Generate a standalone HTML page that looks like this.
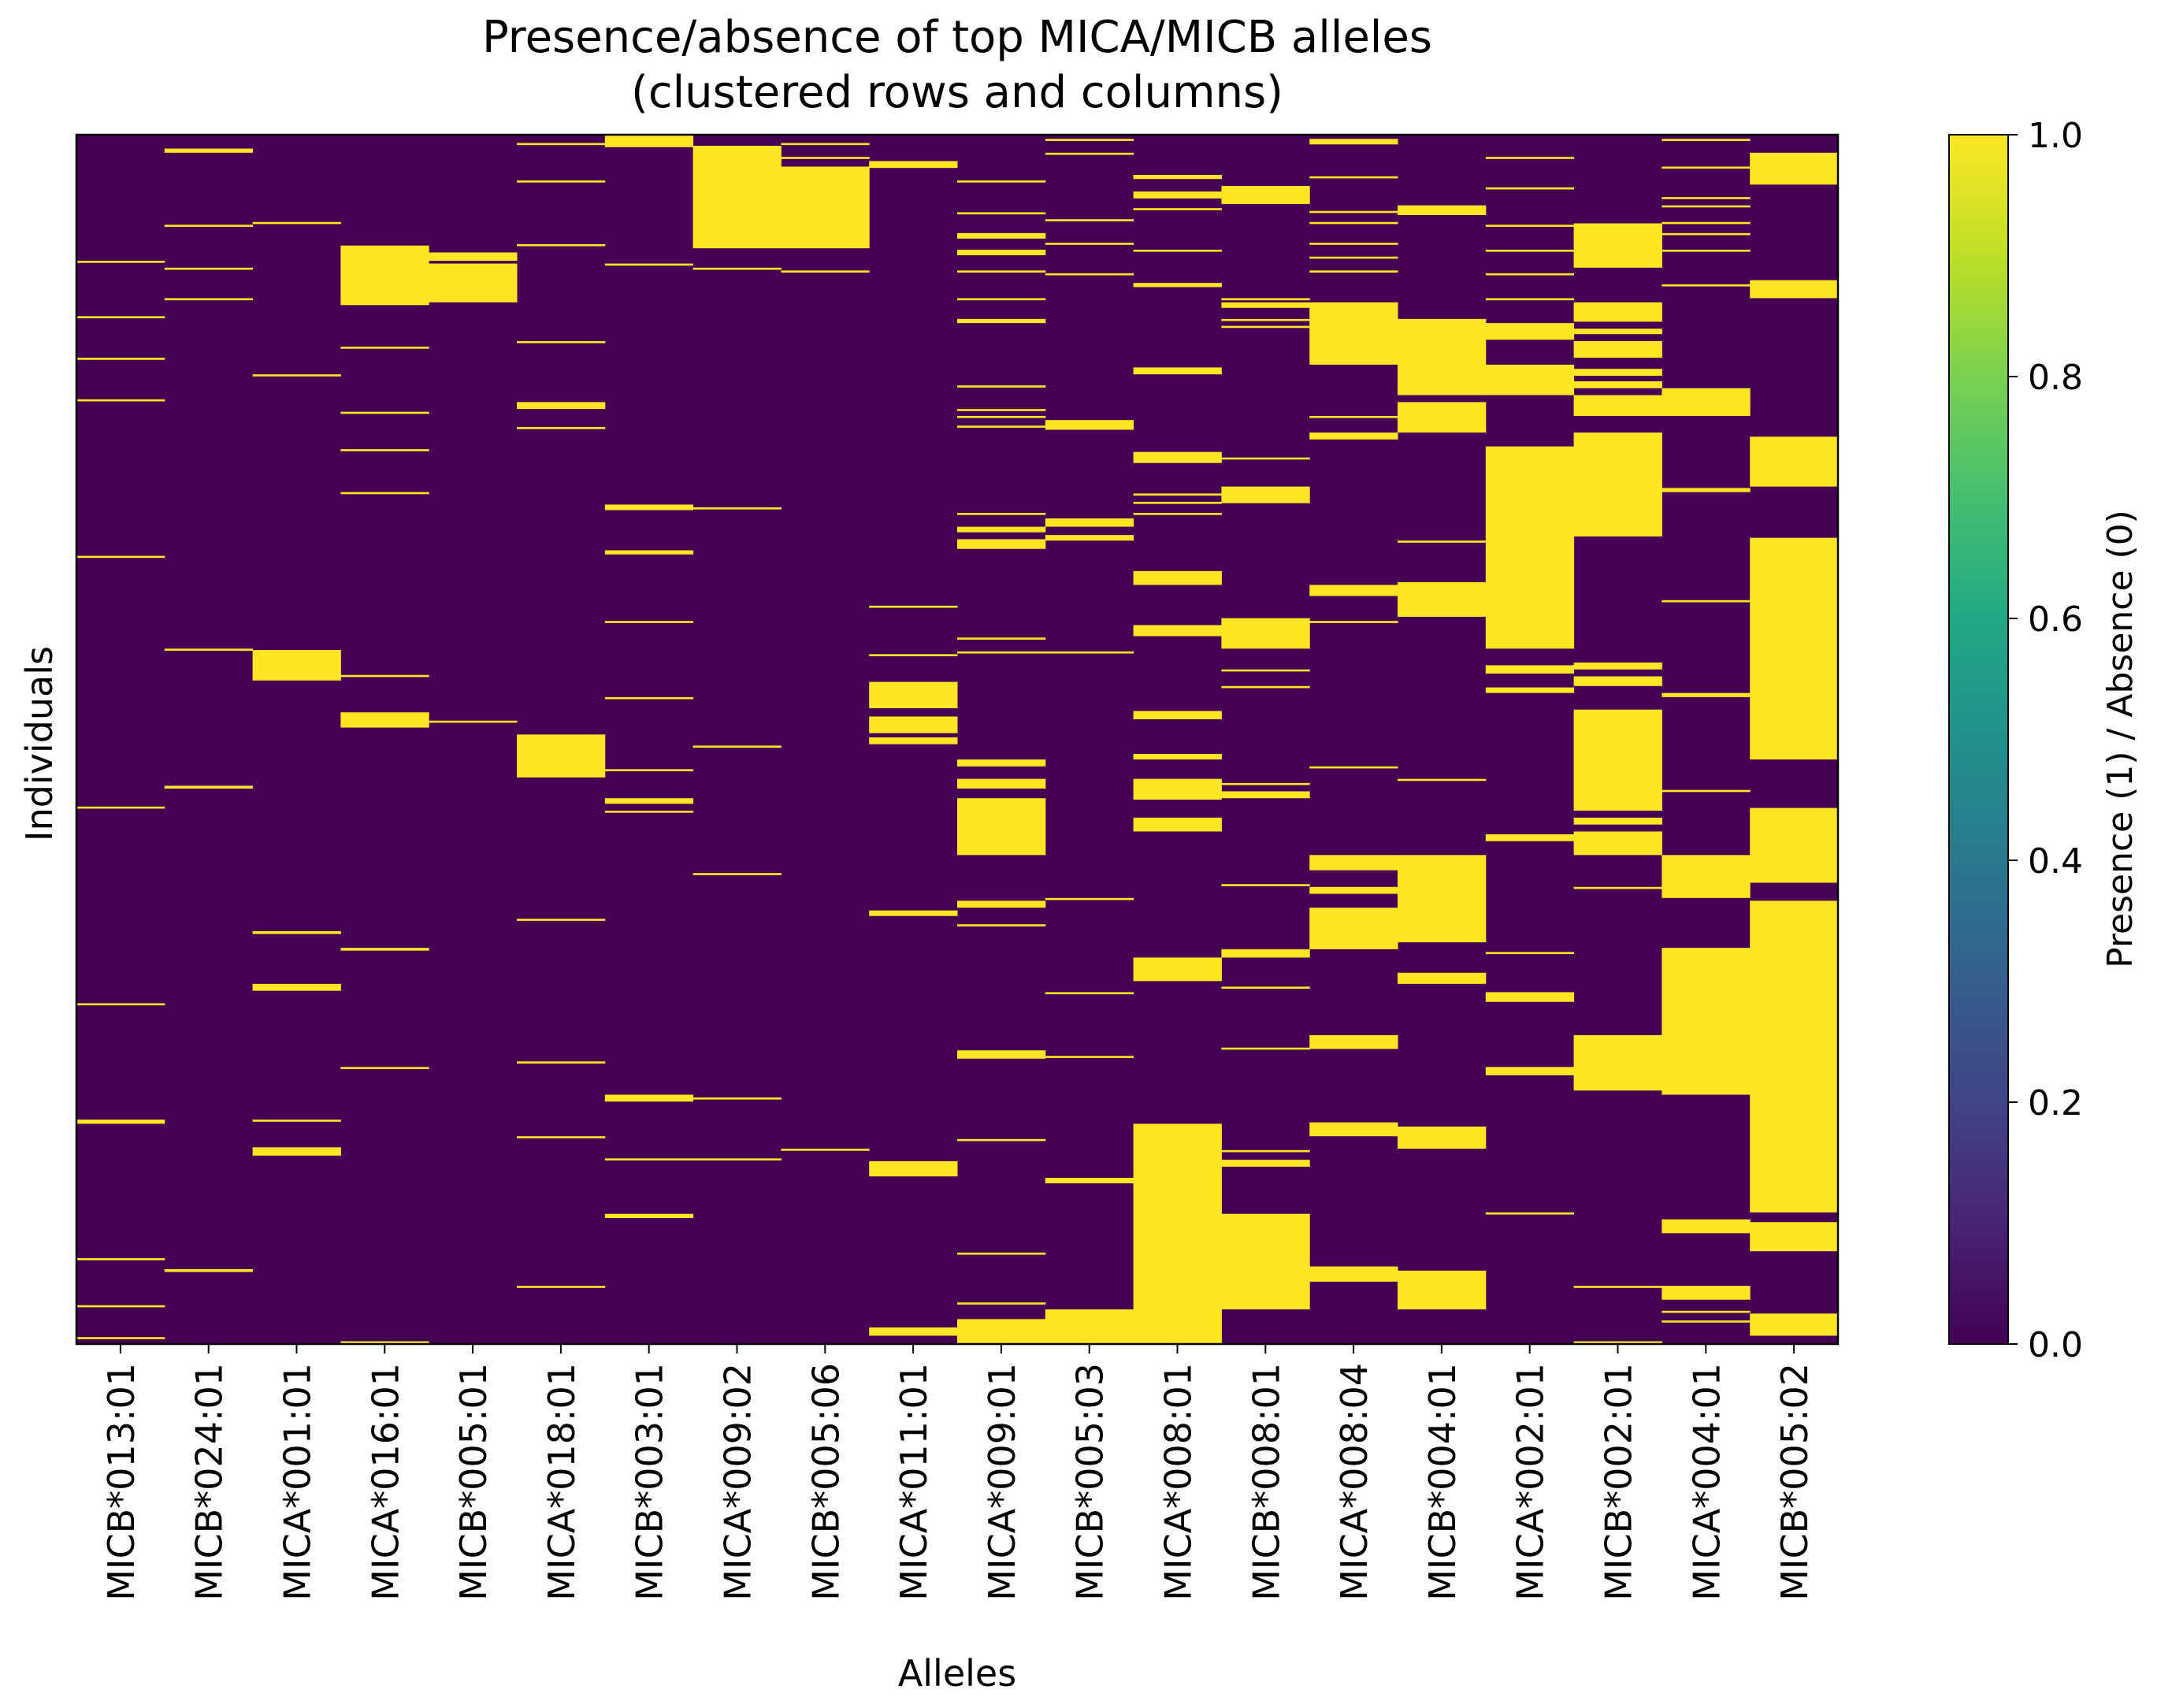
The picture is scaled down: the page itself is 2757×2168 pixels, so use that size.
<!DOCTYPE html>
<html><head><meta charset="utf-8">
<style>
html,body{margin:0;padding:0;background:#fff;}
svg{display:block;font-family:"DejaVu Sans","Liberation Sans",sans-serif;}
</style></head>
<body>
<svg id="chart" width="2757" height="2168" viewBox="0 0 2757 2168" xmlns="http://www.w3.org/2000/svg">
<defs>
<linearGradient id="viridis" x1="0" y1="1" x2="0" y2="0">
<stop offset="0" stop-color="#440154"/><stop offset="0.1" stop-color="#482475"/><stop offset="0.2" stop-color="#414487"/><stop offset="0.3" stop-color="#355f8d"/><stop offset="0.4" stop-color="#2a788e"/><stop offset="0.5" stop-color="#21918c"/><stop offset="0.6" stop-color="#22a884"/><stop offset="0.7" stop-color="#44bf70"/><stop offset="0.8" stop-color="#7ad151"/><stop offset="0.9" stop-color="#bddf26"/><stop offset="1" stop-color="#fde725"/>
</linearGradient>
</defs>
<text x="1215" y="66" font-size="56" text-anchor="middle">Presence/absence of top MICA/MICB alleles</text>
<text x="1215" y="136" font-size="56" text-anchor="middle">(clustered rows and columns)</text>
<g id="plot"></g>
<g id="xaxis"></g>
<text x="1215" y="2140" font-size="46" text-anchor="middle">Alleles</text>
<text transform="translate(66,944) rotate(-90)" font-size="46" text-anchor="middle">Individuals</text>
<rect x="2474" y="171" width="75" height="1535" fill="url(#viridis)" stroke="#000" stroke-width="2"/>
<g id="cbar"></g>
<text transform="translate(2706,938) rotate(-90)" font-size="44" text-anchor="middle">Presence (1) / Absence (0)</text>
</svg>
<script>
const alleles = ["MICB*013:01","MICB*024:01","MICA*001:01","MICA*016:01","MICB*005:01","MICA*018:01","MICB*003:01","MICA*009:02","MICB*005:06","MICA*011:01","MICA*009:01","MICB*005:03","MICA*008:01","MICB*008:01","MICA*008:04","MICB*004:01","MICA*002:01","MICB*002:01","MICA*004:01","MICB*005:02"];
const nIndividuals = 873;
const presence = [
 [91,131,161,191,304,485,627,[711,714],811,845,868],
 [[10,13],65,96,118,371,[470,472],[819,821]],
 [63,173,[372,394],[575,577],[613,618],711,[731,737]],
 [[80,123],153,200,227,258,390,[417,428],[587,589],673,871],
 [[85,91],[93,121],423],
 [6,33,79,149,[193,198],211,[433,464],566,669,723,831],
 [[0,9],93,[267,271],[300,303],351,406,458,[479,483],488,[693,698],739,[779,782]],
 [[8,82],96,269,441,533,695,739],
 [6,16,[23,82],98,732],
 [[19,24],340,375,[395,414],[420,432],[435,440],[560,564],[741,752],[861,867]],
 [33,56,[71,75],[83,87],98,118,[133,136],181,198,203,210,273,[283,287],[292,299],363,373,[451,456],[465,472],[479,520],[553,558],570,[661,667],725,807,843,[855,873]],
 [3,13,61,78,100,[206,213],[277,283],[289,293],373,551,619,665,[753,757],[848,873]],
 [[29,32],[41,46],53,83,[107,110],[168,173],[229,237],259,265,273,[315,325],[354,362],[416,422],[447,451],[465,480],[493,503],[594,611],[714,873]],
 [[37,50],118,[121,125],133,138,233,[254,266],[349,371],386,398,468,[474,479],541,[588,594],615,659,733,[740,745],[779,848]],
 [[3,7],30,55,63,78,88,98,[121,166],203,[215,220],[325,333],351,456,[520,531],[543,548],[558,588],[650,660],[713,723],[817,828]],
 [[51,58],[133,188],[193,215],293,[323,348],465,[520,583],[605,613],[716,732],[820,848]],
 [16,38,65,83,100,118,[136,148],[166,188],[225,371],[383,389],[399,403],[505,510],590,[619,626],[673,679],778],
 [[64,96],[121,135],[140,144],[149,161],[169,174],[178,183],[188,203],[215,290],[381,386],[391,398],[415,451],[451,488],[493,498],[503,520],543,[650,690],831,871],
 [3,23,45,51,63,71,83,108,[183,203],[255,258],336,[403,406],473,[520,551],[587,693],[783,793],[831,841],849,856],
 [[13,36],[105,118],[218,254],[291,451],[486,540],[553,778],[785,806],[851,867]]
];
const cbTicks = [0.0,0.2,0.4,0.6,0.8,1.0];

const NS="http://www.w3.org/2000/svg";
const L=97,T=171,W=2236,H=1535;
const xScale = i => L + i*W/alleles.length;
const yScale = r => T + r*H/nIndividuals;
const plot=document.getElementById('plot');
function mk(tag,attrs,parent){const e=document.createElementNS(NS,tag);for(const k in attrs)e.setAttribute(k,attrs[k]);parent.appendChild(e);return e;}
const bg=mk('rect',{x:L,y:T,width:W,height:H,fill:'#440154'},plot);


const cw=W/alleles.length;
presence.forEach((runs,i)=>{
  runs.forEach(r=>{
    const s=Array.isArray(r)?r[0]:r, e=Array.isArray(r)?r[1]:r+1.5;
    const c=mk('rect',{x:xScale(i),y:yScale(s),width:cw+0.5,height:Math.max(2,yScale(e)-yScale(s)),fill:'#fde725'},plot);
    
    
  });
});
const fr=mk('rect',{x:L,y:T,width:W,height:H,fill:'none',stroke:'#000','stroke-width':2.5},plot);


const xa=document.getElementById('xaxis');
alleles.forEach((a,i)=>{
  const cx=xScale(i)+cw/2;
  const tk=mk('line',{x1:cx,x2:cx,y1:T+H,y2:T+H+12,stroke:'#000','stroke-width':2},xa);
  
  
  const t=mk('text',{transform:`translate(${cx+17},${T+H+24}) rotate(-90)`,'font-size':46,'text-anchor':'end'},xa);
  t.textContent=a;
  
  
});
const cb=document.getElementById('cbar');
cbTicks.forEach(v=>{
  const y=T+H-v*H;
  const tk=mk('line',{x1:2549,x2:2561,y1:y,y2:y,stroke:'#000','stroke-width':2},cb);
  
  
  const t=mk('text',{x:2574,y:y+16,'font-size':44},cb);
  t.textContent=v.toFixed(1);
  
  
});
</script>
</body></html>
